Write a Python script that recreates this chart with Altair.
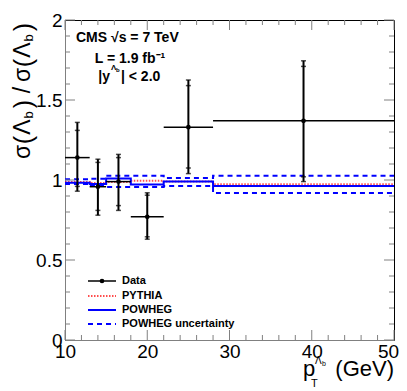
import altair as alt
import pandas as pd

# ---- data ----
edges = [10, 13, 15, 18, 22, 28, 50]
x_center = [11.5, 14, 16.5, 20, 25, 39]
ratio = [1.14, 0.958, 0.99, 0.77, 1.33, 1.37]
tot_hi = [1.36, 1.13, 1.16, 0.92, 1.625, 1.745]
tot_lo = [0.93, 0.78, 0.81, 0.63, 1.04, 0.99]
stat_hi = [1.31, 1.11, 1.14, 0.905, 1.59, 1.71]
stat_lo = [0.96, 0.81, 0.84, 0.645, 1.075, 1.02]

powheg = [0.983, 0.975, 1.01, 0.972, 0.99, 0.963]
powheg_up = [1.004, 1.008, 1.027, 1.027, 1.012, 1.027]
powheg_dn = [0.975, 0.962, 0.957, 0.957, 0.963, 0.918]
pythia = [0.988, 0.982, 0.988, 0.996, 0.99, 0.974]

y_major = [0, 0.5, 1, 1.5, 2]
y_minor = [0.1, 0.2, 0.3, 0.4, 0.6, 0.7, 0.8, 0.9, 1.1, 1.2, 1.3, 1.4,
           1.6, 1.7, 1.8, 1.9]
x_major = [10, 20, 30, 40, 50]
x_minor = [12, 14, 16, 18, 22, 24, 26, 28, 32, 34, 36, 38, 42, 44, 46, 48]

W, H = 329, 320
OX, OY = 65, 20  # page position of plot origin
FONT = "Liberation Sans"

xs = alt.Scale(domain=[10, 50], nice=False, zero=False)
ys = alt.Scale(domain=[0, 2], nice=False, zero=False)
xaxis = alt.Axis(values=x_major, format="d", title=None, ticks=False, grid=False,
                 domainColor="#808080", labelFont=FONT, labelFontSize=19,
                 labelColor="black", labelPadding=2, labelFlush=False,
                 labelOverlap=False,
                 labelOffset={"condition": {"test": "datum.value == 50", "value": -6},
                              "value": 0})
yaxis = alt.Axis(values=y_major, format="~g", title=None, ticks=False, grid=False,
                 domainColor="#808080", labelFont=FONT, labelFontSize=19,
                 labelColor="black", labelPadding=3, labelFlush=False,
                 labelOverlap=False)


def X(f):
    return alt.X(f, type="quantitative", scale=xs, axis=xaxis)


def Y(f):
    return alt.Y(f, type="quantitative", scale=ys, axis=yaxis)


def step_df(vals):
    return pd.DataFrame({"x": edges, "y": vals + [vals[-1]]})


data = pd.DataFrame({
    "xc": x_center, "y": ratio, "lo": tot_lo, "hi": tot_hi,
    "slo": stat_lo, "shi": stat_hi, "blo": edges[:-1], "bhi": edges[1:],
})

layers = []

# POWHEG uncertainty (dashed)
for vals in (powheg_up, powheg_dn):
    layers.append(alt.Chart(step_df(vals)).mark_line(
        interpolate="step-after", color="#0000ff", strokeWidth=2,
        strokeDash=[5, 4]).encode(x=X("x"), y=Y("y")))
# PYTHIA (dotted red)
layers.append(alt.Chart(step_df(pythia)).mark_line(
    interpolate="step-after", color="#ff2020", strokeWidth=2,
    strokeDash=[1.5, 1.5], opacity=0.8).encode(x=X("x"), y=Y("y")))
# POWHEG
layers.append(alt.Chart(step_df(powheg)).mark_line(
    interpolate="step-after", color="#0000ff", strokeWidth=2).encode(
    x=X("x"), y=Y("y")))

# data
base = alt.Chart(data)
layers.append(base.mark_rule(color="black", strokeWidth=1.5).encode(
    x=X("blo"), x2="bhi", y=Y("y")))
layers.append(base.mark_rule(color="black", strokeWidth=2).encode(
    x=X("xc"), y=Y("lo"), y2="hi"))
for f in ("lo", "hi", "slo", "shi"):
    layers.append(base.mark_tick(orient="horizontal", color="black", size=5,
                                 thickness=1.5).encode(x=X("xc"), y=Y(f)))
layers.append(base.mark_circle(color="black", size=22, opacity=1).encode(
    x=X("xc"), y=Y("y")))

# inward ticks
TC = "#808080"
for vals, ln in ((y_major, 10), (y_minor, 5)):
    d = pd.DataFrame({"v": vals})
    layers.append(alt.Chart(d).mark_rule(color=TC, strokeWidth=1).encode(
        y=Y("v"), x=alt.value(0), x2=alt.value(ln)))
    layers.append(alt.Chart(d).mark_rule(color=TC, strokeWidth=1).encode(
        y=Y("v"), x=alt.value(W - ln), x2=alt.value(W)))
for vals, ln in ((x_major, 10), (x_minor, 5)):
    d = pd.DataFrame({"v": vals})
    layers.append(alt.Chart(d).mark_rule(color=TC, strokeWidth=1).encode(
        x=X("v"), y=alt.value(H), y2=alt.value(H - ln)))
    layers.append(alt.Chart(d).mark_rule(color=TC, strokeWidth=1).encode(
        x=X("v"), y=alt.value(0), y2=alt.value(ln)))


def txt(t, px, py, size, bold=False, align="left", angle=0, baseline="alphabetic"):
    kw = dict(font=FONT, fontSize=size, align=align, baseline=baseline,
              color="black")
    if bold:
        kw["fontWeight"] = "bold"
    if angle:
        kw["angle"] = angle
    return alt.Chart(pd.DataFrame({"t": [t]})).mark_text(**kw).encode(
        x=alt.value(px - OX), y=alt.value(py - OY), text="t:N")


# legend (manual)
LX1, LX2, TX = 88, 116, 122
rows = [("Data", 281), ("PYTHIA", 296), ("POWHEG", 310), ("POWHEG uncertainty", 324)]
styles = [dict(color="black", strokeWidth=1.5),
          dict(color="#ff2020", strokeWidth=2, strokeDash=[1.5, 1.5], opacity=0.8),
          dict(color="#0000ff", strokeWidth=2),
          dict(color="#0000ff", strokeWidth=2, strokeDash=[5, 4])]
for (lab, ry), st in zip(rows, styles):
    layers.append(alt.Chart(pd.DataFrame({"t": [lab]})).mark_rule(**st).encode(
        x=alt.value(LX1 - OX), x2=alt.value(LX2 - OX), y=alt.value(ry - OY)))
    layers.append(txt(lab, TX, ry, 11, bold=True, baseline="middle"))
layers.append(alt.Chart(pd.DataFrame({"t": ["Data"]})).mark_circle(
    color="black", size=22, opacity=1).encode(
    x=alt.value((LX1 + LX2) / 2 - OX), y=alt.value(281 - OY)))

# annotations
layers.append(txt("CMS √s = 7 TeV", 76, 42, 14, bold=True))
layers.append(txt("L = 1.9 fb⁻¹", 130, 63, 14, bold=True, align="center"))
layers.append(txt("|y", 110, 81, 14, bold=True, align="right"))
layers.append(txt("Λ", 111, 70, 8, bold=True))
layers.append(txt("b", 116, 72, 6, bold=True))
layers.append(txt("| < 2.0", 121, 81, 14, bold=True))

# x title
layers.append(txt("p", 303, 376, 22))
layers.append(txt("T", 311, 387, 11))
layers.append(txt("Λ", 315, 364, 10))
layers.append(txt("b", 322, 366, 7))
layers.append(txt("(GeV)", 394, 376, 22, align="right"))

# y title (rotated pieces)
BX = 30
ypieces = [("σ", 152, 23, BX), ("(", 140, 25, BX + 2), ("Λ", 127, 23, BX),
           ("b", 115, 13, BX + 3), (")", 104, 25, BX + 2), ("/", 90, 23, BX),
           ("σ", 75, 23, BX), ("(", 63, 25, BX + 2), ("Λ", 50, 23, BX),
           ("b", 38, 13, BX + 3), (")", 27, 25, BX + 2)]
for t, py, sz, bx in ypieces:
    layers.append(txt(t, bx, py, sz, align="center", angle=270))
layers.append(alt.Chart(pd.DataFrame({"t": ["bar"]})).mark_rule(
    color="black", strokeWidth=1.5).encode(
    x=alt.value(5 - OX), y=alt.value(119 - OY), y2=alt.value(135 - OY)))

chart = alt.layer(*layers).properties(
    width=W, height=H, autosize="none",
    padding={"left": OX - 8, "top": OY - 8, "right": 5, "bottom": 51},
).configure_view(stroke="black", strokeWidth=1)

chart.save("out.html", embed_options={"renderer": "svg", "actions": False})
